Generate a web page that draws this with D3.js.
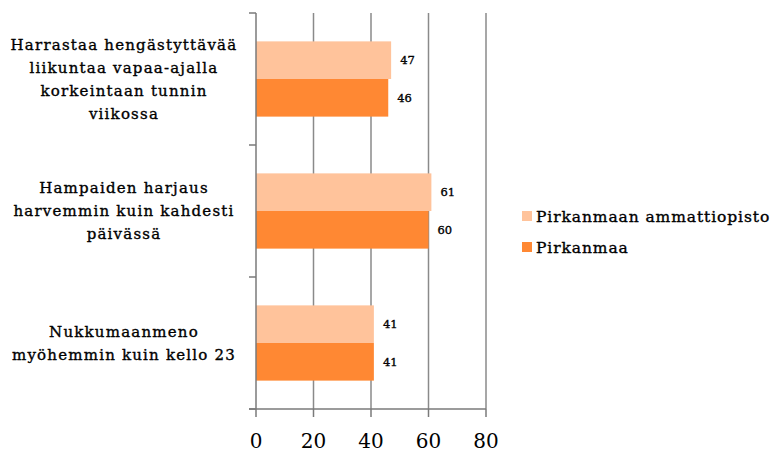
<!DOCTYPE html>
<html>
<head>
<meta charset="utf-8">
<script src="https://cdn.jsdelivr.net/npm/d3@7"></script>
<style>
  html, body { margin: 0; padding: 0; background: #fff; }
  svg { display: block; }
  .heavy { stroke: #000; stroke-width: 0.35px; }
</style>
</head>
<body>
<svg id="chart" width="779" height="454"></svg>
<script>
// Categories (top to bottom), each label split into lines
const categories = [
  "Harrastaa hengästyttävää liikuntaa vapaa-ajalla korkeintaan tunnin viikossa",
  "Hampaiden harjaus harvemmin kuin kahdesti päivässä",
  "Nukkumaanmeno myöhemmin kuin kello 23"
];
const categoryLines = [
  ["Harrastaa hengästyttävää", "liikuntaa vapaa-ajalla", "korkeintaan tunnin", "viikossa"],
  ["Hampaiden harjaus", "harvemmin kuin kahdesti", "päivässä"],
  ["Nukkumaanmeno", "myöhemmin kuin kello 23"]
];
const seriesNames = ["Pirkanmaan ammattiopisto", "Pirkanmaa"];
const ammattiopisto = [47, 61, 41];
const pirkanmaa = [46, 60, 41];
const xTicks = [0, 20, 40, 60, 80];
const colors = ["#FFC39B", "#FF8833"];

const svg = d3.select("#chart");
const plotLeft = 256, plotRight = 486, plotTop = 13, plotBottom = 409;
const serif = "'DejaVu Serif', serif";

const x = d3.scaleLinear().domain([0, 80]).range([plotLeft, plotRight]);
const y = d3.scaleBand().domain(categories).range([plotTop, plotBottom]).paddingInner(0.43).paddingOuter(0.215);
const ySeries = d3.scaleBand().domain(seriesNames).range([0, y.bandwidth()]);
const yBoundary = d3.scaleBand().domain(categories).range([plotTop, plotBottom]);

// vertical gridlines
svg.append("g").selectAll("line").data(xTicks.slice(1)).join("line")
  .attr("x1", d => x(d)).attr("x2", d => x(d))
  .attr("y1", plotTop).attr("y2", plotBottom)
  .attr("stroke", "#8a8a8a").attr("stroke-width", 1.5);

// bars
const data = categories.map((c, i) => ({ c, vals: [ammattiopisto[i], pirkanmaa[i]] }));
const groups = svg.append("g").selectAll("g").data(data).join("g")
  .attr("transform", d => `translate(0,${y(d.c)})`);
groups.selectAll("rect").data(d => d.vals.map((v, j) => ({ v, s: seriesNames[j], j }))).join("rect")
  .attr("x", x(0))
  .attr("y", d => ySeries(d.s))
  .attr("width", d => x(d.v) - x(0))
  .attr("height", ySeries.bandwidth())
  .attr("fill", d => colors[d.j]);
groups.selectAll("text").data(d => d.vals.map((v, j) => ({ v, s: seriesNames[j] }))).join("text")
  .attr("class", "heavy")
  .attr("x", d => x(d.v) + 9)
  .attr("y", d => ySeries(d.s) + ySeries.bandwidth() / 2 + 4)
  .attr("font-family", serif).attr("font-size", 11.5).attr("fill", "#000")
  .text(d => d.v);

// left axis with boundary ticks
const axisG = svg.append("g").attr("stroke", "#7a7a7a").attr("stroke-width", 1.5);
axisG.append("line").attr("x1", plotLeft).attr("x2", plotLeft).attr("y1", plotTop).attr("y2", plotBottom);
const bounds = categories.map(c => yBoundary(c)).concat([plotBottom]);
axisG.selectAll(".yt").data(bounds).join("line")
  .attr("x1", plotLeft - 7).attr("x2", plotLeft).attr("y1", d => d).attr("y2", d => d);
// bottom axis
axisG.append("line").attr("x1", plotLeft - 7).attr("x2", plotRight).attr("y1", plotBottom).attr("y2", plotBottom);
axisG.selectAll(".xt").data(xTicks).join("line")
  .attr("x1", d => x(d)).attr("x2", d => x(d)).attr("y1", plotBottom).attr("y2", plotBottom + 8);

// x tick labels
svg.append("g").selectAll("text").data(xTicks).join("text")
  .attr("x", d => x(d)).attr("y", 448)
  .attr("text-anchor", "middle")
  .attr("font-family", serif).attr("font-size", 20).attr("fill", "#000")
  .text(d => d);

// category labels
const lineH = 23;
svg.append("g").selectAll("text").data(categories).join("text")
  .attr("class", "heavy")
  .attr("text-anchor", "middle")
  .attr("font-family", serif).attr("font-size", 15).attr("letter-spacing", 1.2)
  .attr("fill", "#000")
  .each(function(c, i) {
    const lines = categoryLines[i];
    const cy = yBoundary(c) + yBoundary.bandwidth() / 2;
    const y0 = cy - (lines.length - 1) * lineH / 2 + 5;
    d3.select(this).selectAll("tspan").data(lines).join("tspan")
      .attr("x", 124).attr("y", (d, k) => y0 + k * lineH).text(d => d);
  });

// legend
const legend = svg.append("g").selectAll("g").data(seriesNames).join("g")
  .attr("transform", (d, i) => `translate(522,${216 + i * 31})`);
legend.append("rect").attr("x", 0).attr("y", -5).attr("width", 10).attr("height", 10)
  .attr("fill", (d, i) => colors[i]);
legend.append("text").attr("class", "heavy").attr("x", 14).attr("y", 5.5)
  .attr("font-family", serif).attr("font-size", 15.5).attr("letter-spacing", 0.9)
  .attr("fill", "#000")
  .text(d => d);
</script>
</body>
</html>
